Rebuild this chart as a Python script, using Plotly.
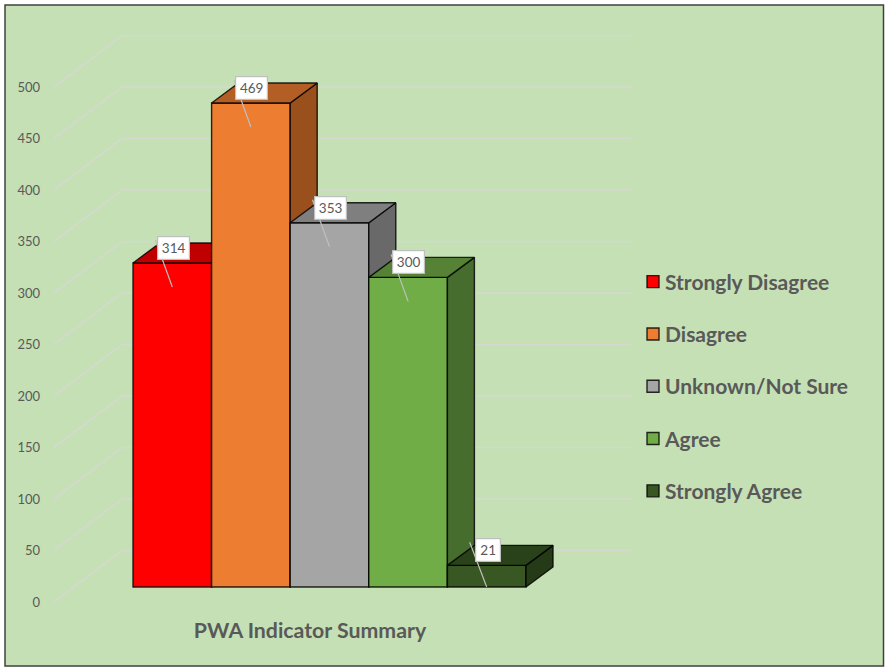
import plotly.graph_objects as go

categories = ["Strongly Disagree", "Disagree", "Unknown/Not Sure", "Agree", "Strongly Agree"]
values = [314, 469, 353, 300, 21]
front_colors = ["#FF0000", "#ED7D31", "#A5A5A5", "#70AD47", "#385723"]
top_colors = ["#C00000", "#B25E25", "#7F7F7F", "#558235", "#2A421A"]
side_colors = ["#A00000", "#99501C", "#696969", "#476D2E", "#253A17"]
tick_values = [0, 50, 100, 150, 200, 250, 300, 350, 400, 450, 500]
chart_title = "PWA Indicator Summary"

W, H = 885, 667
ML = 53
UNIT = 78.6          # pixels per bar
X0 = 172.3           # pixel of the first bar's centre
FRONT_ZERO, FRONT_K = 587.0, 1.032   # pixel of value 0 and pixels per unit at the bars' plane
WALL_ZERO, WALL_K = 602.0, 1.03      # same for the axis plane
DX = 27 / UNIT
DV = 20 / FRONT_K
GREY = "#595959"
EDGE = "rgba(0,0,0,0.82)"

x_range = [(ML - X0) / UNIT, (W - X0) / UNIT]
front_range = [(FRONT_ZERO - H) / FRONT_K, FRONT_ZERO / FRONT_K]
wall_range = [(WALL_ZERO - H) / WALL_K, WALL_ZERO / WALL_K]


def px_x(p):
    return (p - X0) / UNIT


fig = go.Figure()

# gridlines on the floor edge and back wall
grid_x, grid_y = [], []
for t in tick_values:
    grid_x += [px_x(54), px_x(122), px_x(632), None]
    grid_y += [t, t + 51.5 / WALL_K, t + 51.5 / WALL_K, None]
fig.add_trace(go.Scatter(x=grid_x, y=grid_y, mode="lines", showlegend=False, hoverinfo="skip",
                         line=dict(color="#D4D9CF", width=1.6)))

layout_axes = {}
annotations = []
for i, (name, v) in enumerate(zip(categories, values)):
    n = i + 2
    xa, ya = f"x{n}", f"y{n}"
    layout_axes[f"xaxis{n}"] = dict(overlaying="x", range=x_range, visible=False, anchor=ya)
    layout_axes[f"yaxis{n}"] = dict(overlaying="y", range=front_range, visible=False, anchor=xa)
    x0, x1 = i - 0.5, i + 0.5
    fig.add_trace(go.Bar(x=[i], y=[v], width=1, name=name, xaxis=xa, yaxis=ya,
                         legendgroup=name, hoverinfo="name+y",
                         marker=dict(color=front_colors[i], line=dict(color=EDGE, width=1.4))))
    fig.add_trace(go.Scatter(x=[x1, x1 + DX, x1 + DX, x1, x1], y=[0, DV, v + DV, v, 0],
                             mode="lines", fill="toself", fillcolor=side_colors[i],
                             line=dict(color=EDGE, width=1.4), xaxis=xa, yaxis=ya,
                             showlegend=False, hoverinfo="skip"))
    fig.add_trace(go.Scatter(x=[x0, x0 + DX, x1 + DX, x1, x0], y=[v, v + DV, v + DV, v, v],
                             mode="lines", fill="toself", fillcolor=top_colors[i],
                             line=dict(color=EDGE, width=1.4), xaxis=xa, yaxis=ya,
                             showlegend=False, hoverinfo="skip"))
    # leader line from the label to the bar
    fig.add_trace(go.Scatter(x=[i - 17 / UNIT, i], y=[v + 23 / FRONT_K, max(v - 24 / FRONT_K, 0)],
                             mode="lines", line=dict(color="#BFBFBF", width=1.2),
                             xaxis=xa, yaxis=ya, showlegend=False, hoverinfo="skip"))
    annotations.append(dict(x=i + 0.8 / UNIT, y=v + 15 / FRONT_K, xref=xa, yref=ya, text=str(v), showarrow=False,
                            font=dict(family="Lato", size=13.5, color=GREY), bgcolor="white",
                            bordercolor="#BFBFBF", borderwidth=1.2,
                            width=24 if v < 100 else 31, height=22, borderpad=0,
                            xanchor="center", yanchor="middle"))

fig.update_layout(
    width=W, height=H, autosize=False,
    margin=dict(l=ML, r=0, t=0, b=0, pad=0),
    paper_bgcolor="white", plot_bgcolor="rgba(0,0,0,0)",
    barmode="overlay", font=dict(family="Lato", color=GREY),
    title=dict(text=chart_title, x=310 / W, y=1 - 631 / H, xref="container", yref="container",
               xanchor="center", yanchor="middle",
               font=dict(family="Lato", size=21.3, color=GREY, weight=700)),
    xaxis=dict(range=x_range, visible=False),
    yaxis=dict(range=wall_range, tickvals=tick_values, showgrid=False, zeroline=False, showline=False,
               ticks="", ticklabelstandoff=12, tickfont=dict(family="Lato", size=13, color=GREY)),
    legend=dict(x=(625 - ML) / (W - ML), y=1 - 261.5 / H, xanchor="left", yanchor="top",
                bgcolor="rgba(0,0,0,0)", tracegroupgap=22, traceorder="grouped",
                font=dict(family="Lato", size=21, color=GREY, weight=700)),
    annotations=annotations,
    shapes=[dict(type="rect", xref="paper", yref="paper", layer="below",
                 x0=(5 - ML) / (W - ML), x1=(883.5 - ML) / (W - ML), y0=1 - 666 / H, y1=1 - 5 / H,
                 fillcolor="#C5E0B4", line=dict(color="#404040", width=1.5))],
    **layout_axes,
)

fig.write_html("out.html", config={"displayModeBar": False},
               post_script=("document.body.style.margin='0';document.body.style.overflow='hidden';"
                            "document.querySelectorAll('.legend .legendsymbols')"
                            ".forEach(function(g){g.setAttribute('transform','translate(8,0)');});"))
